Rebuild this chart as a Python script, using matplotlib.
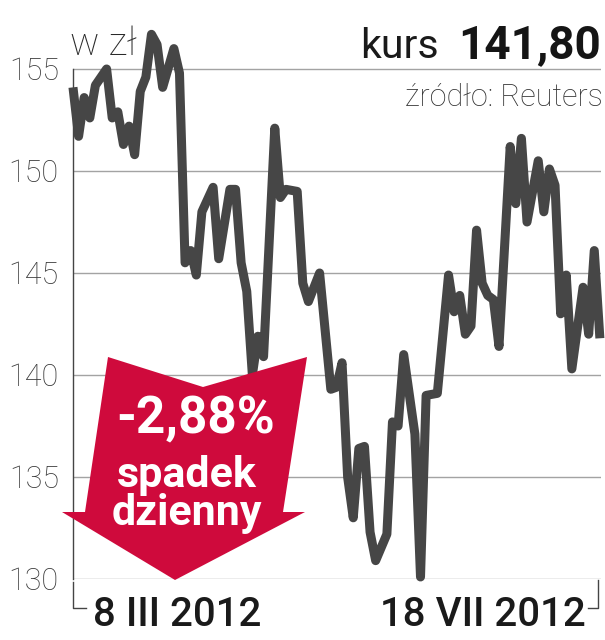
import matplotlib
matplotlib.use('Agg')
import matplotlib.pyplot as plt
from matplotlib.patches import Polygon
from matplotlib.lines import Line2D

# Notowania (numer sesji od 8 III 2012, kurs w zł)
sesja = [0, 1, 2, 3, 4, 6, 7, 8, 9, 10, 11, 12, 13, 14, 15, 16, 18, 19,
         20, 21, 22, 23, 25, 26, 28, 29, 30, 31, 32, 33, 34, 36, 37, 38,
         40, 41, 42, 44, 46, 47, 48, 49, 50, 51, 52, 53, 54, 56, 57, 58,
         59, 61, 62, 63, 65, 67, 68, 69, 70, 71, 72, 73, 74, 75, 76, 78,
         79, 80, 81, 83, 84, 85, 86, 87, 88, 89, 91, 92, 93, 94]
kurs = [154.1, 151.7, 153.6, 152.6, 154.2, 155.0, 152.6, 152.9, 151.3, 152.2,
        150.8, 153.9, 154.6, 156.7, 156.2, 154.1, 156.0, 154.8,
        145.5, 146.1, 144.9, 148.0, 149.2, 145.7, 149.1, 149.1, 145.5, 144.1,
        140.0, 141.9, 140.9, 152.1, 148.7, 149.1,
        149.0, 144.5, 143.6, 145.0, 139.3, 139.4, 140.6, 135.0, 133.0, 136.4,
        136.5, 132.3, 130.9, 132.2, 137.7, 137.5,
        141.0, 137.1, 130.1, 139.0, 139.1, 144.9, 143.1, 143.9, 142.0, 142.4,
        147.1, 144.5, 143.9, 143.7, 141.4, 151.2,
        148.4, 151.6, 147.5, 150.5, 148.0, 150.1, 149.3, 143.0, 144.9, 140.3,
        144.3, 142.0, 146.1, 141.8]
yticks = [130, 135, 140, 145, 150, 155]
daty = ['8 III 2012', '18 VII 2012']

W, H = 605, 640
def fx(px):
    return px / W
def fy(py):
    return 1 - py / H

fig = plt.figure(figsize=(W / 100, H / 100), dpi=100)
ax = fig.add_axes([fx(72.7), fy(579), (601 - 72.7) / W, (579 - 18) / H])
ax.set_xlim(-0.05, 94.2)
ax.set_ylim(130, 157.5)

ax.plot(sesja, kurs, color='#464646', lw=6.5, solid_joinstyle='round',
        solid_capstyle='butt', clip_on=False, zorder=3)

ax.set_yticks(yticks)
ax.set_xticks([])
ax.yaxis.grid(True, color='#a3a3a3', lw=1.0)
ax.set_axisbelow(True)
for s in ['top', 'right', 'bottom']:
    ax.spines[s].set_visible(False)
ax.spines['left'].set_bounds(130, 155)
ax.spines['left'].set_color('#444444')
ax.spines['left'].set_linewidth(1.0)
ax.tick_params(axis='y', length=0, pad=10)
for lab in ax.get_yticklabels():
    lab.set_fontfamily('Roboto')
    lab.set_fontweight('light')
    lab.set_fontsize(22)
    lab.set_color('#383838')

# nawias pod osia
br = '#444444'
fig.add_artist(Line2D([fx(72.7), fx(72.7), fx(86)], [fy(582), fy(607.7), fy(607.7)],
                      color=br, lw=1.0))
fig.add_artist(Line2D([fx(588.3), fx(598.3), fx(598.3)], [fy(607.7), fy(607.7), fy(580)],
                      color=br, lw=1.0))

fig.text(fx(177), fy(626.5), daty[0], ha='center', va='baseline', fontsize=29,
         family='Roboto', fontweight='medium', color='#1a1a1a')
fig.text(fx(483), fy(626.5), daty[1], ha='center', va='baseline', fontsize=29,
         family='Roboto', fontweight='medium', color='#1a1a1a')

# naglowek
fig.text(fx(70), fy(55), 'w zł', ha='left', va='baseline', fontsize=28,
         family='Roboto', fontweight='light', color='#2a2a2a')
fig.text(fx(601), fy(58), '141,80', ha='right', va='baseline', fontsize=33,
         family='Roboto', fontweight='bold', color='#151515')
fig.text(fx(439), fy(58), 'kurs', ha='right', va='baseline', fontsize=29.5,
         family='Roboto', color='#1a1a1a')
fig.text(fx(603), fy(105.7), 'źródło: Reuters', ha='right', va='baseline',
         fontsize=22, family='Roboto', fontweight='light', color='#333333')

# czerwona strzalka
arrow_px = [(108, 357), (203, 387), (307, 357), (283, 512), (305, 512),
            (175, 580), (62, 512), (85, 512)]
fig.add_artist(Polygon([(fx(x), fy(y)) for x, y in arrow_px], closed=True,
                       transform=fig.transFigure, facecolor='#cf0a3c',
                       edgecolor='none', zorder=5))
fig.text(fx(196), fy(433), '-2,88%', ha='center', va='baseline', fontsize=37,
         family='Roboto', fontweight='bold', color='white', zorder=6)
fig.text(fx(187), fy(486.5), 'spadek', ha='center', va='baseline', fontsize=31,
         family='Roboto', fontweight='bold', color='white', zorder=6)
fig.text(fx(187), fy(525), 'dzienny', ha='center', va='baseline', fontsize=31,
         family='Roboto', fontweight='bold', color='white', zorder=6)

fig.savefig('out.png', dpi=100)
